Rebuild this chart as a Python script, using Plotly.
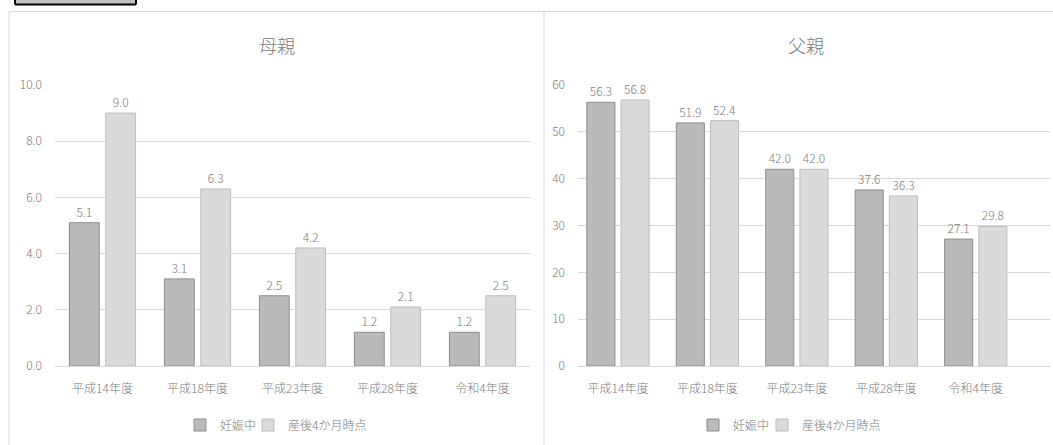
import plotly.graph_objects as go
from plotly.subplots import make_subplots

W, H = 1053, 445

years = ['平成14年度', '平成18年度', '平成23年度', '平成28年度', '令和4年度']
series_names = ['妊娠中', '産後4か月時点']

mother_pregnant = [5.1, 3.1, 2.5, 1.2, 1.2]
mother_postpartum = [9.0, 6.3, 4.2, 2.1, 2.5]
father_pregnant = [56.3, 51.9, 42.0, 37.6, 27.1]
father_postpartum = [56.8, 52.4, 42.0, 36.3, 29.8]

mother_ticks = [0, 2, 4, 6, 8, 10]
father_ticks = [0, 10, 20, 30, 40, 50, 60]

FONT = 'Noto Sans CJK JP'
TXT = '#7a7a7a'
GRID = '#d9d9d9'
DARK, DARK_LINE = '#bababa', '#8c8c8c'
LIGHT, LIGHT_LINE = '#dadada', '#bdbdbd'


def px(x):
    return x / W


def py(y):
    return 1 - y / H


def line(x0, y0, x1, y1, color=GRID, width=1):
    return dict(type='line', xref='paper', yref='paper',
                x0=px(x0), x1=px(x1), y0=py(y0), y1=py(y1),
                line=dict(color=color, width=width))


def font(size):
    return dict(family=FONT, size=size, color=TXT, weight=300)


fig = make_subplots(rows=1, cols=2)

# one legend per entry so each item can sit where the original has it
panels = [(1, mother_pregnant, mother_postpartum, 'legend', 'legend3'),
          (2, father_pregnant, father_postpartum, 'legend2', 'legend4')]
for col, a, b, leg_a, leg_b in panels:
    for vals, name, fill, edge, leg in [(a, series_names[0], DARK, DARK_LINE, leg_a),
                                        (b, series_names[1], LIGHT, LIGHT_LINE, leg_b)]:
        fig.add_trace(go.Bar(
            x=years, y=vals, name=name,
            marker=dict(color=fill, line=dict(color=edge, width=1)),
            texttemplate='%{y:.1f}', textposition='outside',
            textfont=font(12),
            cliponaxis=False, constraintext='none',
            legend=leg, showlegend=True,
        ), row=1, col=col)

fig.update_xaxes(showline=True, linecolor=GRID, linewidth=1, ticks='',
                 tickfont=font(12), ticklabelstandoff=12, automargin=False)
fig.update_yaxes(gridcolor=GRID, zeroline=False, tickfont=font(12),
                 ticklabelstandoff=12, automargin=False)
fig.update_xaxes(domain=[px(55), px(530)], range=[-0.5, 4.5], row=1, col=1)
fig.update_xaxes(domain=[px(578), px(1050)], range=[-0.447, 4.83], row=1, col=2)
fig.update_yaxes(domain=[py(366), py(85)], range=[0, 10], tickvals=mother_ticks,
                 tickformat='.1f', row=1, col=1)
fig.update_yaxes(domain=[py(366), py(85)], range=[0, 60], tickvals=father_ticks,
                 row=1, col=2)

legend_style = dict(orientation='h', xanchor='left', yanchor='middle',
                    y=py(425), font=font(12),
                    bgcolor='rgba(0,0,0,0)', itemclick=False, itemwidth=30)

fig.update_layout(
    width=W, height=H,
    margin=dict(l=0, r=0, t=0, b=0, autoexpand=False),
    paper_bgcolor='white', plot_bgcolor='white',
    barmode='group', bargap=0.235, bargroupgap=0.18,
    legend=dict(x=px(180), **legend_style),
    legend3=dict(x=px(248), **legend_style),
    legend2=dict(x=px(693), **legend_style),
    legend4=dict(x=px(762), **legend_style),
    annotations=[
        dict(text='母親', x=px(277), y=py(45), xref='paper', yref='paper',
             xanchor='center', yanchor='middle', showarrow=False, font=font(18)),
        dict(text='父親', x=px(806), y=py(45), xref='paper', yref='paper',
             xanchor='center', yanchor='middle', showarrow=False, font=font(18)),
    ],
    shapes=[
        # panel frames
        line(9, 11.5, 1053, 11.5),
        line(9, 11.5, 9, 445),
        line(544, 11.5, 544, 445),
        # cut-off label box at the top edge
        dict(type='rect', xref='paper', yref='paper', x0=px(15), x1=px(136),
             y0=py(4.5), y1=py(0), fillcolor='#c0c0c0', line=dict(width=0)),
        line(15, 0, 15, 4.5, 'black', 2),
        line(136, 0, 136, 4.5, 'black', 2),
        line(15, 4.5, 136, 4.5, 'black', 2),
    ],
)

fig.write_html('out.html', config={'displayModeBar': False},
               post_script="document.body.style.margin='0';")
